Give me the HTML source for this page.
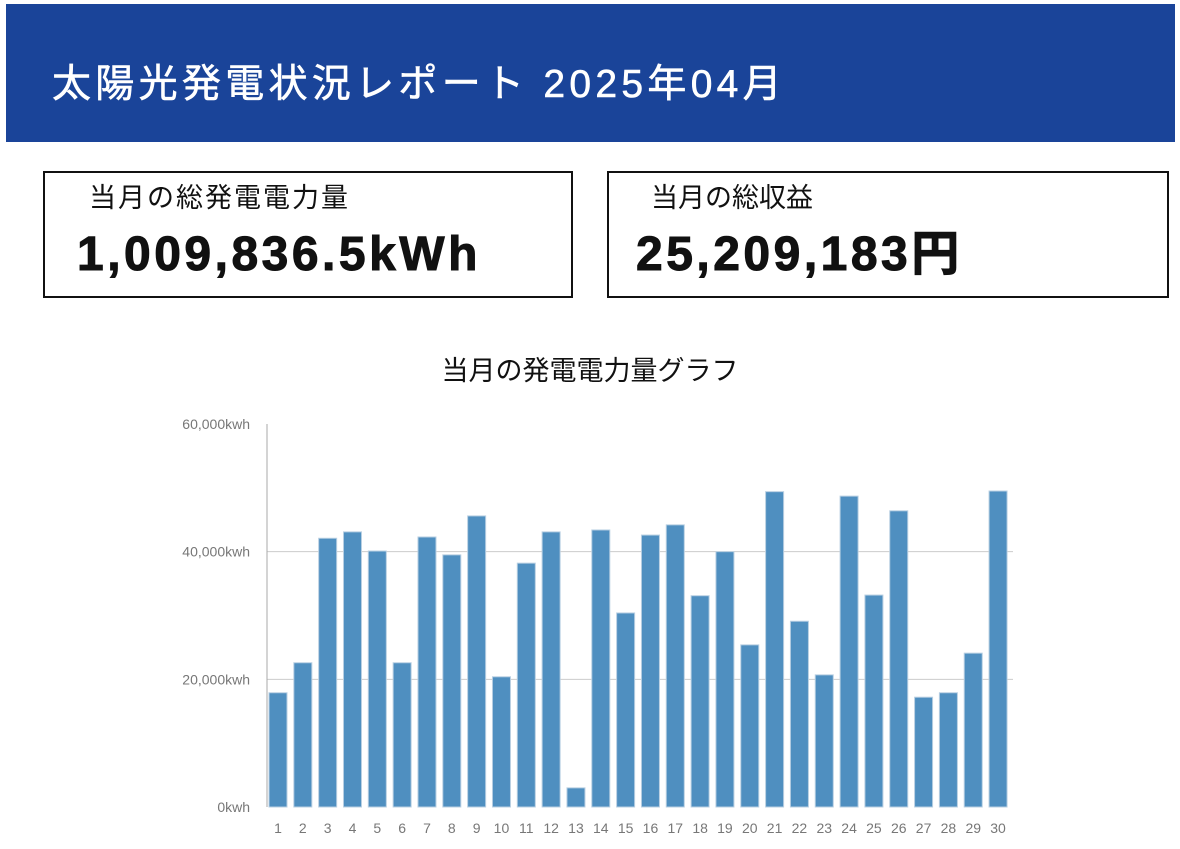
<!DOCTYPE html>
<html><head><meta charset="utf-8"><style>
body{margin:0;width:1180px;height:849px;background:#fff;font-family:"Liberation Sans","Noto Sans CJK JP",sans-serif;position:relative;overflow:hidden}
.hdr{position:absolute;left:6px;top:4px;width:1169px;height:138px;background:#1a4499;color:#fff}
.hdr h1{margin:0;position:absolute;left:46px;top:58px;font-size:39px;line-height:1.2;font-weight:normal;letter-spacing:4.3px;-webkit-text-stroke:0.6px #fff}
.card{position:absolute;top:171px;height:127px;border:2px solid #111;box-sizing:border-box}
.card .l{position:absolute;top:12px;font-size:27px;line-height:1;color:#111}
.card .v{position:absolute;top:58px;font-size:48px;line-height:1;font-weight:bold;color:#111;letter-spacing:3.5px;-webkit-text-stroke:1px #111}
.title{position:absolute;left:0;width:1180px;top:355px;text-align:center;font-size:27px;line-height:1.2;color:#111}
</style></head><body>
<div class="hdr"><h1>太陽光発電状況レポート 2025年04月</h1></div>
<div class="card" style="left:43px;width:530px">
<div class="l" style="left:44px;letter-spacing:2px">当月の総発電電力量</div>
<div class="v" style="left:32px">1,009,836.5kWh</div></div>
<div class="card" style="left:607px;width:562px">
<div class="l" style="left:42px">当月の総収益</div>
<div class="v" style="left:27px">25,209,183円</div></div>
<div class="title">当月の発電電力量グラフ</div>
<svg id="chart" width="1180" height="849" style="position:absolute;left:0;top:0"></svg>
<script>
const days=[1,2,3,4,5,6,7,8,9,10,11,12,13,14,15,16,17,18,19,20,21,22,23,24,25,26,27,28,29,30];
const values=[17900,22600,42100,43100,40100,22600,42300,39500,45600,20400,38200,43100,3000,43400,30400,42600,44200,33100,40000,25400,49400,29100,20700,48700,33200,46400,17200,17900,24100,49500];
const yTicks=[0,20000,40000,60000];
const yTickLabels=["0kwh","20,000kwh","40,000kwh","60,000kwh"];
const svg=document.getElementById('chart');const NS='http://www.w3.org/2000/svg';
const y0=807,yTop=424,yMax=60000,axisX=267,x1=278,step=24.83,bw=18;
function y(v){return y0-(v/yMax)*(y0-yTop);}
function x(i){return x1+i*step;}
function mk(t,a){const e=document.createElementNS(NS,t);for(const k in a)e.setAttribute(k,a[k]);svg.appendChild(e);return e;}
yTicks.forEach((t,i)=>{
 if(t>0&&t<yMax){const g=mk('line',{x1:axisX,x2:1013,y1:y(t),y2:y(t),stroke:'#ccc','stroke-width':1});
 
 }
 const l=mk('text',{x:250,y:y(t)+5,'text-anchor':'end','font-size':14,fill:'#777','font-family':'Liberation Sans,sans-serif'});
 l.textContent=yTickLabels[i];
 
 
});
const ax=mk('line',{x1:axisX,x2:axisX,y1:yTop,y2:y0,stroke:'#aaa','stroke-width':1});


values.forEach((v,i)=>{
 const r=mk('rect',{x:x(i)-bw/2,y:y(v),width:bw,height:y0-y(v),fill:'#4f8fc0',stroke:'#b8cfe2','stroke-width':1});
 
 
 const t=mk('text',{x:x(i),y:833,'text-anchor':'middle','font-size':14,fill:'#777','font-family':'Liberation Sans,sans-serif'});
 t.textContent=days[i];
 
 
});
</script>
</body></html>
